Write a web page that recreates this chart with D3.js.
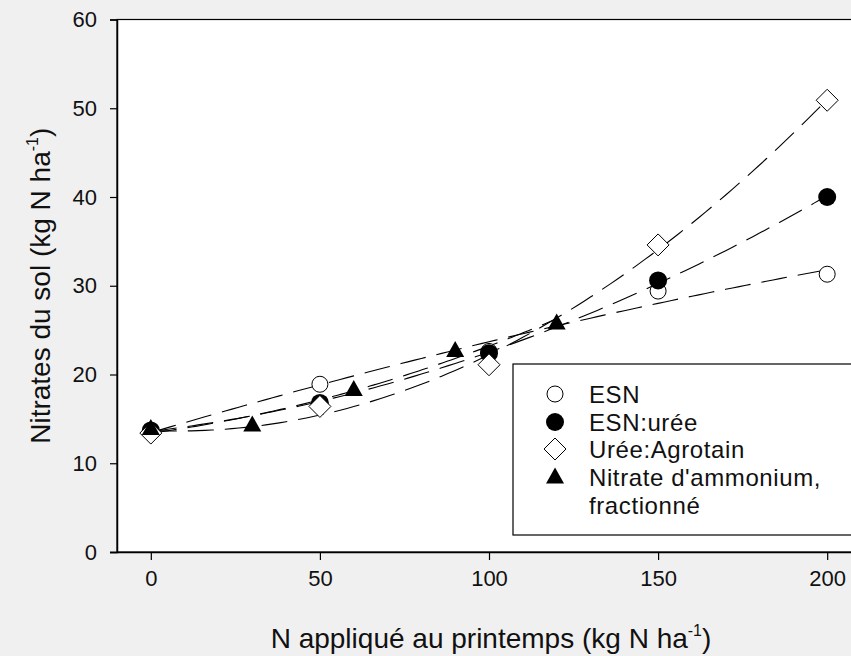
<!DOCTYPE html>
<html><head><meta charset="utf-8">
<script src="https://cdn.jsdelivr.net/npm/d3@7"></script>
<style>
html,body{margin:0;padding:0;background:#f0f0f0;overflow:hidden;}
svg{display:block;font-family:Arial,"Liberation Sans",sans-serif;}
</style></head>
<body>
<script>
// ---- data ----
const xDose = [0, 50, 100, 150, 200];
const xDoseAN = [0, 30, 60, 90, 120];
const esn = [13.6, 18.9, 22.6, 29.4, 31.3];
const esnUree = [13.7, 16.8, 22.4, 30.6, 40.0];
const ureeAgrotain = [13.4, 16.4, 21.1, 34.6, 50.9];
const nitrateAmmonium = [13.9, 14.3, 18.3, 22.7, 25.8];
const xTicks = [0, 50, 100, 150, 200];
const yTicks = [0, 10, 20, 30, 40, 50, 60];
const legendLabels = ["ESN", "ESN:urée", "Urée:Agrotain", "Nitrate d'ammonium,", "fractionné"];

const W = 851, H = 656;
const svg = d3.select("body").append("svg").attr("width", W).attr("height", H);

const x = d3.scaleLinear().domain([-10, 210]).range([117, 861]);
const y = d3.scaleLinear().domain([0, 60]).range([552, 19.5]);

// plot area
svg.append("rect").attr("x", x(-10)).attr("y", y(60))
  .attr("width", x(210) - x(-10)).attr("height", y(0) - y(60))
  .attr("fill", "#fff").attr("stroke", "#000").attr("stroke-width", 1.2);

// axes
const gx = svg.append("g").attr("transform", `translate(0,${y(0)})`)
  .call(d3.axisBottom(x).tickValues(xTicks).tickSize(8).tickPadding(10));
const gy = svg.append("g").attr("transform", `translate(${x(-10)},0)`)
  .call(d3.axisLeft(y).tickValues(yTicks).tickSize(7).tickPadding(13));
[gx, gy].forEach(g => {
  g.select(".domain").attr("stroke", "#000").attr("stroke-width", 1.5);
  g.selectAll(".tick line").attr("stroke", "#000").attr("stroke-width", 1.2);
  g.selectAll(".tick text").attr("font-size", 22).attr("fill", "#111")
    .attr("font-family", "Arial, 'Liberation Sans', sans-serif");
});
gx.select(".domain").attr("d", `M${x(-10)-7},0.5H${x(210)}`);

// axis titles
const xt = svg.append("text").attr("x", (x(-10) + x(210)) / 2 + 2).attr("y", 648)
  .attr("text-anchor", "middle").attr("font-size", 28).attr("fill", "#111");
xt.append("tspan").text("N appliqué au printemps (kg N ha");
xt.append("tspan").attr("font-size", 16).attr("dy", -12).text("-1");
xt.append("tspan").attr("dy", 12).text(")");

const yt = svg.append("text").attr("transform", `translate(50,${(y(0) + y(60)) / 2}) rotate(-90)`)
  .attr("text-anchor", "middle").attr("font-size", 28).attr("fill", "#111");
yt.append("tspan").text("Nitrates du sol (kg N ha");
yt.append("tspan").attr("font-size", 16).attr("dy", -12).text("-1");
yt.append("tspan").attr("dy", 12).text(")");

// quadratic least-squares fit of each series (trend curves)
function quadFit(xs, ys) {
  const n = xs.length;
  let S = [0, 0, 0, 0, 0], T = [0, 0, 0];
  for (let i = 0; i < n; i++) {
    for (let k = 0; k < 5; k++) S[k] += Math.pow(xs[i], k);
    for (let k = 0; k < 3; k++) T[k] += ys[i] * Math.pow(xs[i], k);
  }
  const A = [[S[0], S[1], S[2], T[0]], [S[1], S[2], S[3], T[1]], [S[2], S[3], S[4], T[2]]];
  for (let i = 0; i < 3; i++) {
    for (let j = i + 1; j < 3; j++) {
      const f = A[j][i] / A[i][i];
      for (let k = i; k < 4; k++) A[j][k] -= f * A[i][k];
    }
  }
  const c = [0, 0, 0];
  for (let i = 2; i >= 0; i--) {
    let s = A[i][3];
    for (let k = i + 1; k < 3; k++) s -= A[i][k] * c[k];
    c[i] = s / A[i][i];
  }
  return v => c[0] + c[1] * v + c[2] * v * v;
}

const series = [
  { xs: xDose, ys: esn, sym: "openCircle" },
  { xs: xDose, ys: esnUree, sym: "filledCircle" },
  { xs: xDose, ys: ureeAgrotain, sym: "diamond" },
  { xs: xDoseAN, ys: nitrateAmmonium, sym: "triangle" }
];

const line = d3.line().x(d => x(d[0])).y(d => y(d[1]));
series.forEach(s => {
  const f = quadFit(s.xs, s.ys);
  const x0 = d3.min(s.xs), x1 = d3.max(s.xs);
  const pts = d3.range(0, 101).map(i => { const v = x0 + (x1 - x0) * i / 100; return [v, f(v)]; });
  svg.append("path").attr("d", line(pts)).attr("fill", "none")
    .attr("stroke", "#000").attr("stroke-width", 1.1).attr("stroke-dasharray", "26,11");
});

function drawSym(g, sym, cx, cy, scale) {
  scale = scale || 1;
  if (sym === "openCircle") {
    g.append("circle").attr("cx", cx).attr("cy", cy).attr("r", 8 * scale)
      .attr("fill", "#fff").attr("stroke", "#000").attr("stroke-width", 1);
  } else if (sym === "filledCircle") {
    g.append("circle").attr("cx", cx).attr("cy", cy).attr("r", 9 * scale).attr("fill", "#000");
  } else if (sym === "diamond") {
    const r = 11 * scale;
    g.append("path").attr("d", `M${cx},${cy - r}L${cx + r},${cy}L${cx},${cy + r}L${cx - r},${cy}Z`)
      .attr("fill", "#fff").attr("stroke", "#000").attr("stroke-width", 1);
  } else if (sym === "triangle") {
    const w = 9 * scale, h = 16 * scale;
    g.append("path").attr("d", `M${cx},${cy - h * 0.6}L${cx + w},${cy + h * 0.4}L${cx - w},${cy + h * 0.4}Z`)
      .attr("fill", "#000");
  }
}

const gm = svg.append("g");
series.forEach(s => {
  s.xs.forEach((xv, i) => drawSym(gm, s.sym, x(xv), y(s.ys[i])));
});

// legend
const lg = svg.append("g");
lg.append("rect").attr("x", 513).attr("y", 364).attr("width", 400).attr("height", 171)
  .attr("fill", "#fff").attr("stroke", "#000").attr("stroke-width", 1.2);
const rowY = [394, 422, 449, 477, 505];
["openCircle", "filledCircle", "diamond", "triangle"].forEach((sym, i) => {
  drawSym(lg, sym, 555, rowY[i], 1);
});
legendLabels.forEach((t, i) => {
  lg.append("text").attr("x", 589).attr("y", rowY[i]).attr("dy", "0.36em")
    .attr("font-size", 24).attr("letter-spacing", 0.6).attr("fill", "#111").text(t);
});
</script>
</body></html>
